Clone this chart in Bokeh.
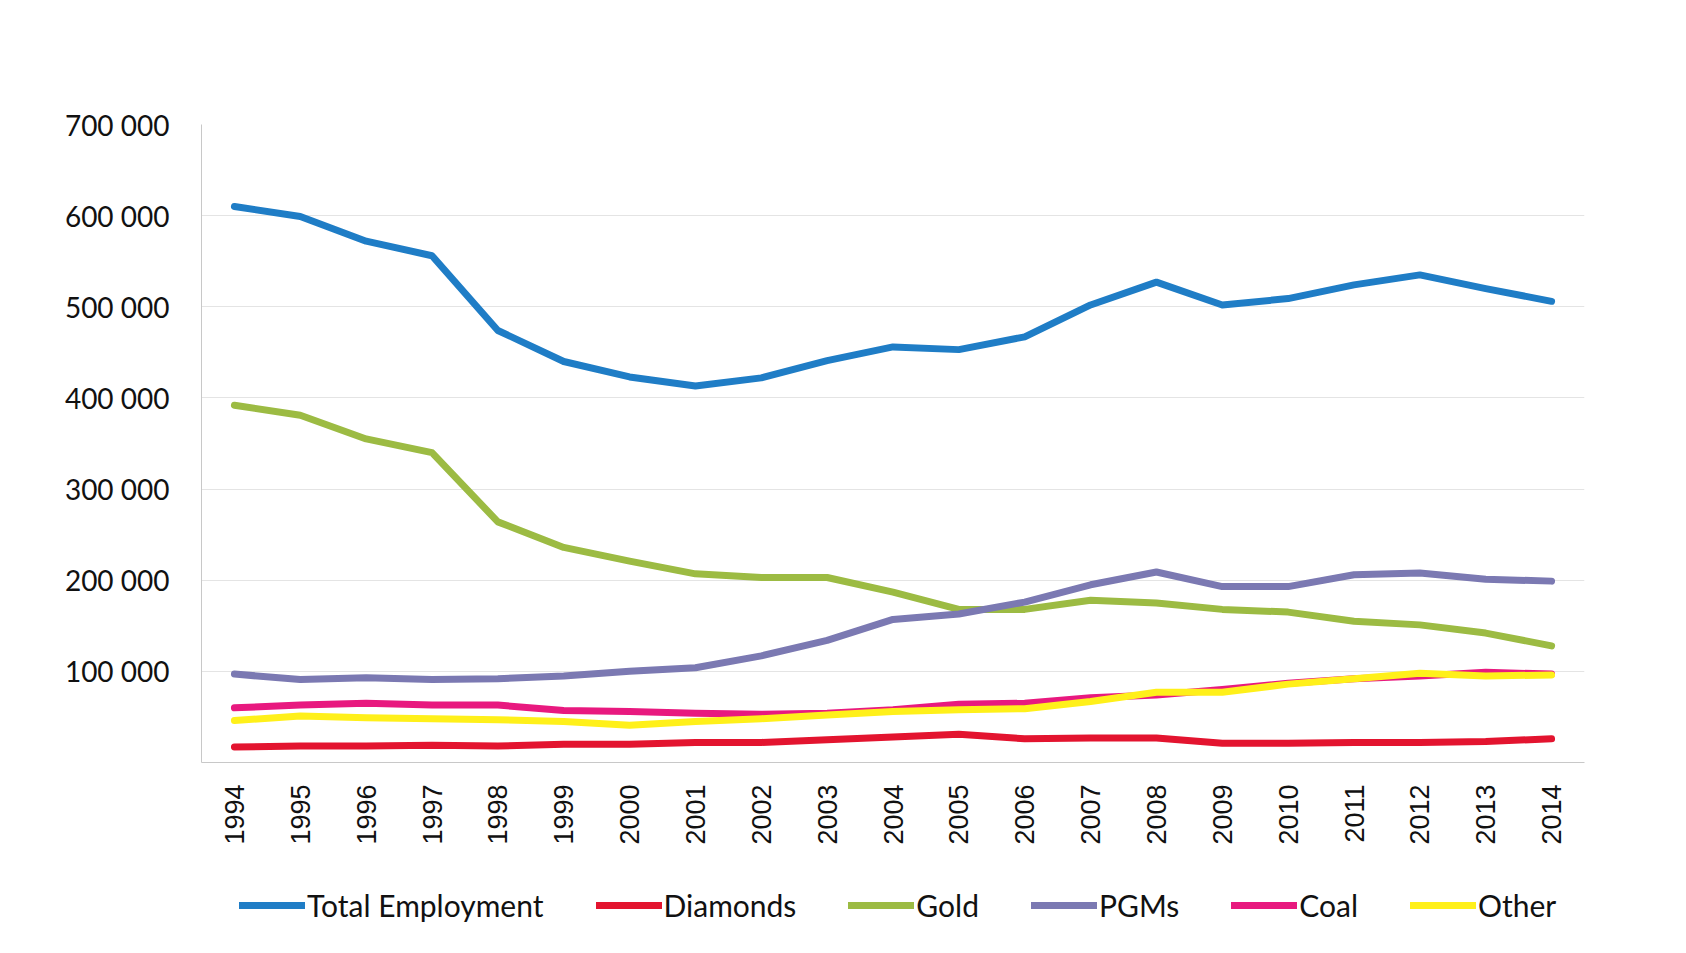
from math import pi
from bokeh.plotting import figure
from bokeh.layouts import column
from bokeh.models import FactorRange, Range1d, FixedTicker, Legend, LegendItem
from bokeh.embed import file_html
from bokeh.resources import INLINE

years = [str(y) for y in range(1994, 2015)]

total_employment = [610000, 599000, 572000, 556000, 474000, 440000, 423000, 413000, 422000, 441000,
                    456000, 453000, 467000, 502000, 527000, 502000, 509000, 524000, 535000, 520000, 506000]
diamonds = [17000, 18000, 18000, 19000, 18000, 20000, 20000, 22000, 22000, 25000,
            28000, 31000, 26000, 27000, 27000, 21000, 21000, 22000, 22000, 23000, 26000]
gold = [392000, 381000, 355000, 340000, 264000, 236000, 221000, 207000, 203000, 203000,
        187000, 168000, 168000, 178000, 175000, 168000, 165000, 155000, 151000, 142000, 128000]
pgms = [97000, 91000, 93000, 91000, 92000, 95000, 100000, 104000, 117000, 134000,
        157000, 163000, 176000, 195000, 209000, 193000, 193000, 206000, 208000, 201000, 199000]
coal = [60000, 63000, 65000, 63000, 63000, 57000, 56000, 54000, 53000, 54000,
        58000, 64000, 65000, 71000, 74000, 80000, 87000, 92000, 95000, 99000, 97000]
other = [46000, 51000, 49000, 48000, 47000, 45000, 41000, 45000, 48000, 52000,
         56000, 58000, 59000, 67000, 77000, 77000, 86000, 92000, 98000, 95000, 96000]

series_names = ["Total Employment", "Diamonds", "Gold", "PGMs", "Coal", "Other"]
series_values = [total_employment, diamonds, gold, pgms, coal, other]
series_colors = ["#1f7dc6", "#e3142f", "#9cbb43", "#7b79b2", "#e8197f", "#fff01a"]

y_ticks = [100000, 200000, 300000, 400000, 500000, 600000, 700000]
y_tick_labels = ["100 000", "200 000", "300 000", "400 000", "500 000", "600 000", "700 000"]

LINE_W = 7

p = figure(width=1686, height=860,
           x_range=FactorRange(factors=years, range_padding=0),
           y_range=Range1d(0, 700000),
           output_backend="svg", toolbar_location=None,
           min_border_left=201, min_border_right=102,
           min_border_top=124, min_border_bottom=98)

p.background_fill_color = "white"
p.border_fill_color = "white"
p.outline_line_color = None

for name, vals, col in zip(series_names, series_values, series_colors):
    p.line(years, vals, line_color=col, line_width=LINE_W, line_cap="round", line_join="round")

# axes
p.yaxis.ticker = FixedTicker(ticks=y_ticks)
p.yaxis.major_label_overrides = {t: l for t, l in zip(y_ticks, y_tick_labels)}
p.yaxis.major_label_text_font = "Lato"
p.yaxis.major_label_text_font_size = "28px"
p.yaxis.major_label_text_color = "#111111"
p.yaxis.major_label_standoff = 26
p.yaxis.major_tick_line_color = None
p.yaxis.minor_tick_line_color = None
p.yaxis.axis_line_color = "#c8c8c8"

p.xaxis.major_label_orientation = pi / 2
p.xaxis.major_label_text_font = "Liberation Sans"
p.xaxis.major_label_text_font_size = "27px"
p.xaxis.major_label_text_color = "#111111"
p.xaxis.major_label_standoff = 16
p.xaxis.major_tick_line_color = None
p.xaxis.axis_line_color = "#c8c8c8"

p.xgrid.grid_line_color = None
p.ygrid.ticker = FixedTicker(ticks=[0] + y_ticks)
p.ygrid.grid_line_color = "#e4e4e4"
p.ygrid.grid_line_width = 1

# legend strip below the chart (same side borders as the chart so frames align)
pl = figure(width=1686, height=93, x_range=Range1d(0, 1), y_range=Range1d(0, 1),
            output_backend="svg", toolbar_location=None,
            min_border_left=201, min_border_right=102, min_border_top=0, min_border_bottom=0)
pl.axis.visible = False
pl.grid.visible = False
pl.outline_line_color = None
pl.background_fill_color = "white"
pl.border_fill_color = "white"

items = []
for name, col in zip(series_names, series_colors):
    # sample line kept outside the visible range: only its legend swatch shows
    r = pl.line([5, 6], [5, 6], line_color=col, line_width=LINE_W, line_cap="round")
    items.append(LegendItem(label=name, renderers=[r]))

legend = Legend(items=items, orientation="horizontal", location=(38, 30),
                glyph_width=66, glyph_height=30, label_standoff=2, spacing=52,
                padding=0, margin=0, border_line_color=None, background_fill_alpha=0,
                label_text_font="Lato", label_text_font_size="30px",
                label_text_color="#111111")
pl.add_layout(legend, "center")

layout = column(p, pl, spacing=0)
open("out.html", "w").write(file_html(layout, INLINE))
